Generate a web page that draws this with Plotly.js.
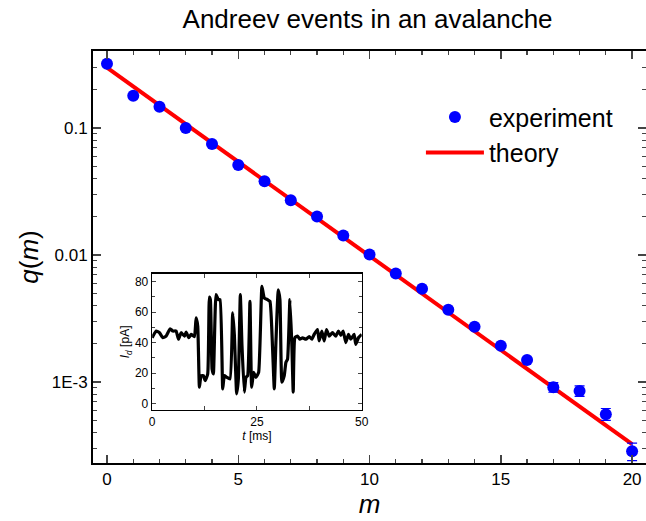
<!DOCTYPE html>
<html>
<head>
<meta charset="utf-8">
<script src="https://cdn.plot.ly/plotly-3.0.1.min.js"></script>
<style>html,body{margin:0;padding:0;background:#fff;}#chart{width:646px;height:521px;}</style>
</head>
<body>
<div id="chart"></div>
<script>
// Main data: avalanche statistics
const m = [0,1,2,3,4,5,6,7,8,9,10,11,12,13,14,15,16,17,18,19,20];
const qExp = [0.32,0.179,0.147,0.100,0.0747,0.051,0.0381,0.027,0.0201,0.01426,0.0101,0.00714,0.00543,0.00371,0.00272,0.00193,0.00149,0.00091,0.00085,0.000558,0.000285];
const qErr = [0,0,0,0,0,0,0,0,0,0,0,0,0,0,0,0,0.00005,0.00008,0.00008,0.00006,0.000045];
const mTheory = [0,20];
const qTheory = [0.298,0.000324];
const yTickVals = [0.1,0.01,0.001];
const yTickText = ['0.1','0.01','1E-3'];
// Inset: current trace
const tTrace = [0,0.95,1.75,2.54,3.33,4.29,4.92,5.71,6.27,6.9,7.7,8.1,8.73,9.29,10.08,10.48,10.87,11.27,11.67,12.22,12.62,13.25,13.65,13.89,14.29,14.6,15.24,15.79,16.19,16.83,17.22,17.78,18.57,19.21,19.6,20.16,20.56,21.03,21.43,21.98,22.38,22.78,23.33,23.73,24.21,24.76,25.4,26.19,26.75,27.54,28.1,28.73,29.13,29.52,30.08,30.48,30.95,31.51,31.9,32.3,32.86,33.33,33.65,34.05,34.68,35.24,35.87,36.67,37.46,38.1,38.65,39.44,39.84,40.48,41.03,41.59,42.22,43.02,43.81,44.44,45,45.56,46.19,46.83,47.38,48.17,48.57,49.21,50];
const iTrace = [43.2,47.6,46.5,43.2,44.3,49.1,47.6,47.6,42.2,46.5,44.3,46.9,43.2,45.4,43.9,56.2,50.8,10.8,18.4,18.4,15.1,19.5,69.8,68.1,22.7,19.5,71.4,68.1,68.1,9.7,18.4,17.3,16.2,59.5,45.4,6.5,16.2,71.4,37.8,7.6,17.3,18.4,67.0,10.8,20.5,17.3,20.5,76.8,69.2,68.1,67.0,35.7,9.7,40.0,74.6,68.1,14.1,18.4,27.0,29.2,68.1,37.8,7.6,43.2,44.3,42.2,43.2,42.2,43.9,42.2,45.4,48.6,41.1,47.6,41.1,48.6,44.3,46.5,44.3,47.6,44.8,47.6,40.0,45.4,42.2,45.4,38.9,43.2,45.4];

const FONT = 'Liberation Sans, Arial, Helvetica, sans-serif';

const traces = [
  {x: mTheory, y: qTheory, mode: 'lines', name: 'theory',
   line: {color: '#ff0000', width: 4}, xaxis: 'x', yaxis: 'y'},
  {x: m, y: qExp, mode: 'markers', name: 'experiment',
   marker: {color: '#0000ff', size: 12},
   error_y: {type: 'data', array: qErr, visible: true, color: '#0000ff', thickness: 1.2, width: 5},
   xaxis: 'x', yaxis: 'y'},
  {x: tTrace, y: iTrace, mode: 'lines', showlegend: false,
   line: {color: '#000000', width: 3.2, shape: 'spline', smoothing: 0.4}, xaxis: 'x2', yaxis: 'y2'}
];

const minorLog = [];
for (const d of [0.0001,0.001,0.01,0.1]) for (let k=2;k<=9;k++) minorLog.push(+(k*d).toPrecision(3));

const layout = {
  width: 646, height: 521,
  margin: {l: 93, r: 0, t: 51, b: 58},
  paper_bgcolor: '#fff', plot_bgcolor: 'rgba(0,0,0,0)',
  font: {family: FONT, color: '#000'},
  title: {text: 'Andreev events in an avalanche', font: {size: 26, family: FONT}, x: 0.569, xanchor: 'center', y: 0.964, yanchor: 'middle'},
  showlegend: true,
  legend: {x: 0.593, y: 0.895, xanchor: 'left', yanchor: 'top', bgcolor: 'rgba(0,0,0,0)', font: {size: 25, family: FONT}, traceorder: 'reversed', itemwidth: 58, tracegroupgap: 0},
  xaxis: {
    range: [-0.533, 20.53], showgrid: false, zeroline: false,
    showline: true, linewidth: 2, linecolor: '#000', mirror: 'ticks',
    ticks: 'inside', ticklen: 8, tickwidth: 1.5, dtick: 5, tick0: 0,
    minor: {ticks: 'inside', ticklen: 4, dtick: 1, tickwidth: 1.2},
    tickfont: {size: 17, family: FONT},
    title: {text: '<i>m</i>', font: {size: 26, family: FONT}, standoff: 4}
  },
  yaxis: {
    type: 'log', range: [-3.638, -0.394], showgrid: false, zeroline: false,
    showline: true, linewidth: 2, linecolor: '#000', mirror: 'ticks',
    ticks: 'inside', ticklen: 8, tickwidth: 1.5,
    tickmode: 'array', tickvals: yTickVals, ticktext: yTickText,
    minor: {ticks: 'inside', ticklen: 4, tickwidth: 1.2, tickmode: 'array', tickvals: minorLog},
    tickfont: {size: 17, family: FONT},
    title: {text: '<i>q</i>(<i>m</i>)', font: {size: 26, family: FONT}, standoff: 6}
  },
  xaxis2: {
    domain: [0.107, 0.486], anchor: 'y2', range: [0, 50], showgrid: false, zeroline: false,
    showline: true, linewidth: 1.5, linecolor: '#000', mirror: 'ticks',
    ticks: 'inside', ticklen: 4, tickwidth: 1, dtick: 25, tick0: 0,
    minor: {ticks: 'inside', ticklen: 4, dtick: 12.5, tickwidth: 1},
    tickfont: {size: 12, family: FONT},
    title: {text: '<i>t</i> [ms]', font: {size: 12, family: FONT}, standoff: 2}
  },
  yaxis2: {
    domain: [0.129, 0.459], anchor: 'x2', range: [-4, 85], showgrid: false, zeroline: false,
    showline: true, linewidth: 1.5, linecolor: '#000', mirror: 'ticks',
    ticks: 'inside', ticklen: 4, tickwidth: 1, dtick: 20, tick0: 0,
    minor: {ticks: 'inside', ticklen: 3, dtick: 10, tickwidth: 1},
    tickfont: {size: 12, family: FONT},
    title: {text: '<i>I</i><sub><i>d</i></sub> [pA]', font: {size: 12, family: FONT}, standoff: 2}
  },
  shapes: [
    {type: 'rect', xref: 'paper', yref: 'paper', x0: 0.107, x1: 0.486, y0: 0.129, y1: 0.459, fillcolor: '#fff', line: {width: 0}, layer: 'below'}
  ]
};

Plotly.newPlot('chart', traces, layout, {displayModeBar: false, staticPlot: true});
</script>
</body>
</html>
